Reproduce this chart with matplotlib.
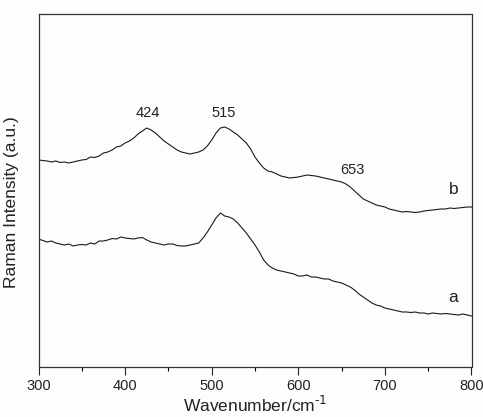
import matplotlib
matplotlib.use("Agg")
import matplotlib.pyplot as plt
import numpy as np

plt.rcParams['font.family'] = ['Liberation Sans', 'DejaVu Sans']

# Wavenumber grid (cm^-1)
wavenumber = [300, 305, 310, 315, 320, 325, 330, 335, 340, 345, 350, 355, 360, 365, 370,
              375, 380, 385, 390, 395, 400, 405, 410, 415, 420, 425, 430, 435, 440, 445,
              450, 455, 460, 465, 470, 475, 480, 485, 490, 495, 500, 505, 510, 515, 520,
              525, 530, 535, 540, 545, 550, 555, 560, 565, 570, 575, 580, 585, 590, 595,
              600, 605, 610, 615, 620, 625, 630, 635, 640, 645, 650, 655, 660, 665, 670,
              675, 680, 685, 690, 695, 700, 705, 710, 715, 720, 725, 730, 735, 740, 745,
              750, 755, 760, 765, 770, 775, 780, 785, 790, 795, 800]

# Curve b (arbitrary units)
intensity_b = [207, 206.5, 206, 205, 206, 204.5, 205, 204, 205, 206, 207, 207.5, 210, 209.5, 211,
               214, 215, 217, 220, 221, 224, 226, 229, 233, 236, 239, 237, 234, 230, 226,
               223, 220, 217, 215, 214, 213, 214, 215, 217, 221, 227, 234, 239, 240, 238,
               235, 232, 228, 224, 218, 210, 204, 199, 196, 195, 193, 191, 190, 189, 189.5,
               190, 191, 192, 191.5, 191, 190, 189, 188, 187, 186, 185, 183, 180, 176, 172,
               168, 166, 164, 162, 161, 160, 158, 157, 156, 155, 155.5, 155, 154.5, 155, 156,
               156.5, 157, 157.5, 158, 158, 159, 158.5, 159, 159.5, 160, 160]

# Curve a (arbitrary units)
intensity_a = [128, 126.5, 125, 126, 124, 123, 122, 123, 121, 122, 122.5, 122, 124, 123, 126,
               126, 127, 128.5, 128, 130, 129, 128.5, 128, 129, 129.5, 127, 125, 124, 123, 122,
               123, 123, 121.5, 121, 121, 122, 123, 124, 129, 135, 142, 149, 154, 151, 150,
               148, 144, 139, 134, 128, 122, 115, 107, 102, 99, 97, 96, 95, 94, 93,
               91, 91, 92, 90, 90, 89, 88, 88, 86, 85, 84, 82, 80, 77, 73,
               70, 67, 64, 62, 61, 59, 58, 57, 56, 55, 55, 54.5, 55, 54, 54,
               53, 54, 53.5, 53, 53.5, 53, 52.5, 52, 53, 52, 51]

peak_labels = ["424", "515", "653"]
peak_x = [426, 514, 662]
peak_y = [254, 254, 197]
curve_names = ["b", "a"]
curve_name_x = [780, 779]
curve_name_y = [177, 70]

fig = plt.figure(figsize=(4.83, 4.17), dpi=100)
fig.patch.set_facecolor('#fdfdfb')
ax = fig.add_axes([38.5 / 483, 1 - 367 / 417, (471.5 - 38.5) / 483, (367 - 14) / 417])
ax.set_facecolor('#fdfdfb')

ax.plot(wavenumber, intensity_b, color='#1a1a1a', lw=0.8)
ax.plot(wavenumber, intensity_a, color='#1a1a1a', lw=0.8)

for t, x, y in zip(peak_labels, peak_x, peak_y):
    ax.text(x, y, t, ha='center', va='center', fontsize=10.5, color='#222222')
for t, x, y in zip(curve_names, curve_name_x, curve_name_y):
    ax.text(x, y, t, ha='center', va='center', fontsize=12.5, color='#222222')

ax.set_xlim(300, 800)
ax.set_ylim(0, 353)
ax.set_xticks([300, 400, 500, 600, 700, 800])
ax.set_xticks([350, 450, 550, 650, 750], minor=True)
ax.set_yticks([])
ax.tick_params(axis='x', which='major', direction='out', length=6, width=0.8,
               labelsize=10.5, pad=3, colors='#222222')
ax.tick_params(axis='x', which='minor', direction='out', length=3, width=0.8)
for s in ax.spines.values():
    s.set_linewidth(0.9)
    s.set_color('#333333')

ax.set_xlabel('Wavenumber/cm$^{\\text{-1}}$', fontsize=12.5, labelpad=1, color='#222222')
ax.set_ylabel('Raman Intensity (a.u.)', fontsize=12.5, color='#222222')
ax.yaxis.set_label_coords(-0.045, 0.467)

fig.savefig('out.png', dpi=100, facecolor=fig.get_facecolor())
